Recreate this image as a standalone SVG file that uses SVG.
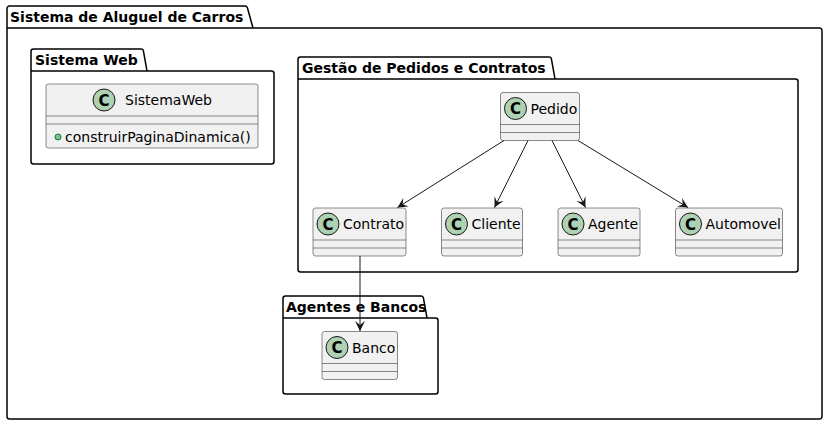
<svg xmlns="http://www.w3.org/2000/svg" width="828" height="425" viewBox="0 0 828 425">
<style>
.pkg{fill:none;stroke:#000;stroke-width:1.5}
.pkt{font-family:"DejaVu Sans",sans-serif;font-weight:bold;font-size:14px;fill:#000}
.cls{fill:#F1F1F1;stroke:#181818;stroke-width:0.5}
.sep{stroke:#181818;stroke-width:0.5}
.ico{fill:#ADD1B2;stroke:#181818;stroke-width:1}
.icl{font-family:"DejaVu Sans",sans-serif;font-weight:bold;font-size:15px;fill:#000;text-anchor:middle}
.cn{font-family:"DejaVu Sans",sans-serif;font-size:14px;fill:#000}
.edge{stroke:#181818;stroke-width:1;fill:none;marker-end:url(#ah)}
</style>
<defs>
<marker id="ah" markerUnits="userSpaceOnUse" markerWidth="12" markerHeight="10" viewBox="0 0 12 10" refX="10" refY="5" orient="auto">
<path d="M10,5 L0,0 L4,5 L0,10 Z" fill="#181818"/>
</marker>
</defs>
<rect width="828" height="425" fill="#fff"/>

<g id="pkg-outer">
<path class="pkg" d="M9.5,6 L245,6 A2.5,2.5 0 0 1 247.4,7.8 L253,28 L819.5,28 A2.5,2.5 0 0 1 822,30.5 L822,416.5 A2.5,2.5 0 0 1 819.5,419 L9.5,419 A2.5,2.5 0 0 1 7,416.5 L7,8.5 A2.5,2.5 0 0 1 9.5,6 Z M7,28 L253,28"/>
<text class="pkt" x="10" y="22">Sistema de Aluguel de Carros</text>
</g>

<g id="pkg-web">
<path class="pkg" d="M33.5,49 L141,49 A2.5,2.5 0 0 1 143.4,50.8 L147,71 L271.5,71 A2.5,2.5 0 0 1 274,73.5 L274,161.5 A2.5,2.5 0 0 1 271.5,164 L33.5,164 A2.5,2.5 0 0 1 31,161.5 L31,51.5 A2.5,2.5 0 0 1 33.5,49 Z M31,71 L147,71"/>
<text class="pkt" x="35" y="65">Sistema Web</text>
</g>

<g id="pkg-gestao">
<path class="pkg" d="M300.5,57 L549,57 A2.5,2.5 0 0 1 551.4,58.8 L555,79 L795.5,79 A2.5,2.5 0 0 1 798,81.5 L798,269.5 A2.5,2.5 0 0 1 795.5,272 L300.5,272 A2.5,2.5 0 0 1 298,269.5 L298,59.5 A2.5,2.5 0 0 1 300.5,57 Z M298,79 L555,79"/>
<text class="pkt" x="302" y="73">Gestão de Pedidos e Contratos</text>
</g>

<g id="pkg-agentes">
<path class="pkg" d="M285.5,296 L421,296 A2.5,2.5 0 0 1 423.4,297.8 L427,318 L435.5,318 A2.5,2.5 0 0 1 438,320.5 L438,391.5 A2.5,2.5 0 0 1 435.5,394 L285.5,394 A2.5,2.5 0 0 1 283,391.5 L283,298.5 A2.5,2.5 0 0 1 285.5,296 Z M283,318 L427,318"/>
<text class="pkt" x="286" y="312">Agentes e Bancos</text>
</g>

<g id="SistemaWeb">
<rect class="cls" x="46" y="84" width="212" height="64" rx="2.5"/>
<line class="sep" x1="46" y1="116" x2="258" y2="116"/>
<line class="sep" x1="46" y1="124" x2="258" y2="124"/>
<circle class="ico" cx="104" cy="100" r="11"/>
<text class="icl" x="104" y="105.5">C</text>
<text class="cn" x="125" y="105">SistemaWeb</text>
<circle cx="58" cy="137" r="3" fill="#84BE84" stroke="#038048" stroke-width="1"/>
<text class="cn" x="65" y="141.5">construirPaginaDinamica()</text>
</g>

<g id="Pedido">
<rect class="cls" x="500.5" y="92.5" width="79" height="48" rx="2.5"/>
<line class="sep" x1="500.5" y1="124.5" x2="579.5" y2="124.5"/>
<line class="sep" x1="500.5" y1="132.5" x2="579.5" y2="132.5"/>
<circle class="ico" cx="515.5" cy="108.5" r="11"/>
<text class="icl" x="515.5" y="114">C</text>
<text class="cn" x="530.5" y="113.5">Pedido</text>
</g>

<g id="Contrato">
<rect class="cls" x="313" y="208" width="93" height="48" rx="2.5"/>
<line class="sep" x1="313" y1="240" x2="406" y2="240"/>
<line class="sep" x1="313" y1="248" x2="406" y2="248"/>
<circle class="ico" cx="328" cy="224" r="11"/>
<text class="icl" x="328" y="229.5">C</text>
<text class="cn" x="343" y="229">Contrato</text>
</g>

<g id="Cliente">
<rect class="cls" x="441.5" y="208" width="81" height="48" rx="2.5"/>
<line class="sep" x1="441.5" y1="240" x2="522.5" y2="240"/>
<line class="sep" x1="441.5" y1="248" x2="522.5" y2="248"/>
<circle class="ico" cx="456.5" cy="224" r="11"/>
<text class="icl" x="456.5" y="229.5">C</text>
<text class="cn" x="471.5" y="229">Cliente</text>
</g>

<g id="Agente">
<rect class="cls" x="558" y="208" width="82" height="48" rx="2.5"/>
<line class="sep" x1="558" y1="240" x2="640" y2="240"/>
<line class="sep" x1="558" y1="248" x2="640" y2="248"/>
<circle class="ico" cx="573" cy="224" r="11"/>
<text class="icl" x="573" y="229.5">C</text>
<text class="cn" x="588" y="229">Agente</text>
</g>

<g id="Automovel">
<rect class="cls" x="675.5" y="208" width="107" height="48" rx="2.5"/>
<line class="sep" x1="675.5" y1="240" x2="782.5" y2="240"/>
<line class="sep" x1="675.5" y1="248" x2="782.5" y2="248"/>
<circle class="ico" cx="690.5" cy="224" r="11"/>
<text class="icl" x="690.5" y="229.5">C</text>
<text class="cn" x="705.5" y="229">Automovel</text>
</g>

<g id="Banco">
<rect class="cls" x="322" y="331.5" width="75.5" height="48" rx="2.5"/>
<line class="sep" x1="322" y1="363.5" x2="397.5" y2="363.5"/>
<line class="sep" x1="322" y1="371.5" x2="397.5" y2="371.5"/>
<circle class="ico" cx="337" cy="347.5" r="11"/>
<text class="icl" x="337" y="353">C</text>
<text class="cn" x="352" y="352.5">Banco</text>
</g>

<g id="connectors">
<line class="edge" x1="504" y1="140.5" x2="397.5" y2="207.5"/>
<line class="edge" x1="528" y1="140.5" x2="494.5" y2="207.5"/>
<line class="edge" x1="552" y1="140.5" x2="585.5" y2="207.5"/>
<line class="edge" x1="578" y1="140.5" x2="688" y2="207.5"/>
<line class="edge" x1="360" y1="256" x2="360" y2="331"/>
</g>
</svg>
